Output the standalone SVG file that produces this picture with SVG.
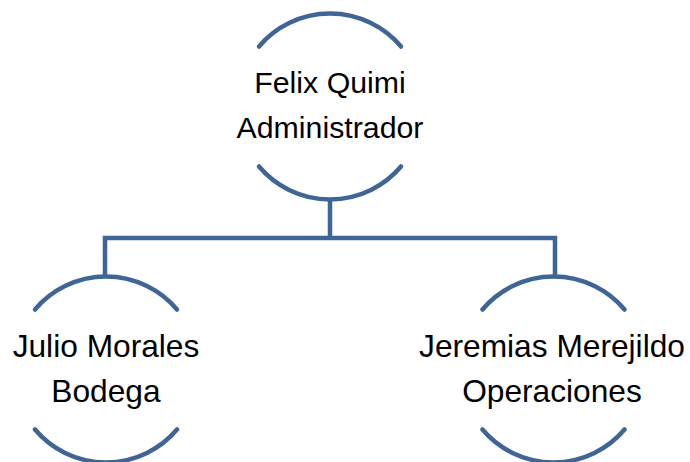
<svg xmlns="http://www.w3.org/2000/svg" width="690" height="462" viewBox="0 0 690 462">
<style>
.arc{fill:none;stroke:#3F6596;stroke-width:4.5;stroke-linecap:round}
.con{fill:none;stroke:#3F6596;stroke-width:4.5;stroke-linejoin:miter}
.t{font-family:"Liberation Sans",Arial,sans-serif;font-size:30.3px;fill:#000;text-anchor:middle}
.b{font-size:31.7px}
</style>
<rect width="690" height="462" fill="#fff"/>
<g id="connectors">
<path class="con" d="M330 199 V238"/>
<path class="con" d="M105 276 V238 H555 V276"/>
</g>
<g id="node-felix">
<path class="arc" d="M259 46.5 A93 93 0 0 1 401 46.5"/>
<path class="arc" d="M259 166.5 A93 93 0 0 0 401 166.5"/>
<text class="t" x="330" y="93">Felix Quimi</text>
<text class="t" x="330" y="138">Administrador</text>
</g>
<g id="node-julio">
<path class="arc" d="M35 309.5 A93 93 0 0 1 177 309.5"/>
<path class="arc" d="M35 429.5 A93 93 0 0 0 177 429.5"/>
<text class="t b" x="106" y="357">Julio Morales</text>
<text class="t b" x="106" y="402">Bodega</text>
</g>
<g id="node-jeremias">
<path class="arc" d="M482.5 309.5 A93 93 0 0 1 624.5 309.5"/>
<path class="arc" d="M482.5 429.5 A93 93 0 0 0 624.5 429.5"/>
<text class="t b" x="552" y="357">Jeremias Merejildo</text>
<text class="t b" x="552" y="402">Operaciones</text>
</g>
</svg>
